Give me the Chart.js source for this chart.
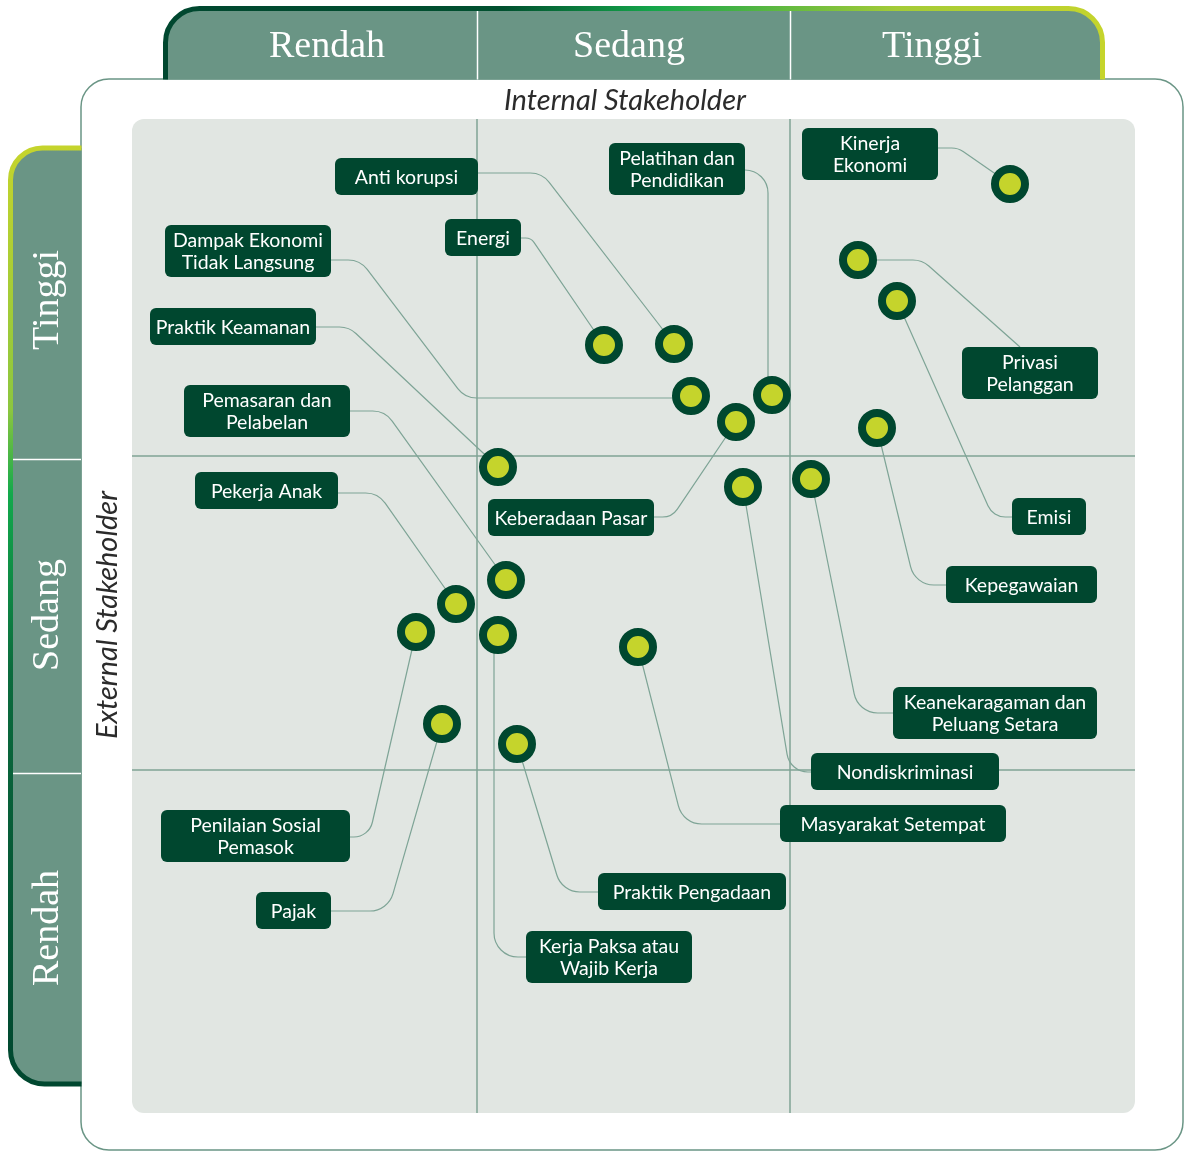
<!DOCTYPE html>
<html lang="id">
<head>
<meta charset="UTF-8">
<title>Matriks Materialitas</title>
<script src="https://cdn.jsdelivr.net/npm/chart.js"></script>
<style>
html,body{margin:0;padding:0;background:#fff;}
.wrap{position:relative;width:1184px;height:1151px;}
</style>
</head>
<body>
<div class="wrap"><canvas id="matrix"></canvas></div>
<script>
const topics = [
  "Kinerja\nEkonomi", "Privasi\nPelanggan", "Emisi", "Energi", "Anti korupsi",
  "Dampak Ekonomi\nTidak Langsung", "Pelatihan dan\nPendidikan", "Keberadaan Pasar",
  "Kepegawaian", "Praktik Keamanan", "Nondiskriminasi",
  "Keanekaragaman dan\nPeluang Setara", "Pemasaran dan\nPelabelan", "Pekerja Anak",
  "Penilaian Sosial\nPemasok", "Kerja Paksa atau\nWajib Kerja", "Masyarakat Setempat",
  "Pajak", "Praktik Pengadaan"
];
// x = Internal Stakeholder, y = External Stakeholder
const internalScore = [87.8, 72.6, 76.5, 47.2, 54.2, 55.9, 64.0, 60.4, 74.5, 36.6, 61.1, 67.9, 37.4, 32.4, 28.4, 36.6, 50.6, 31.0, 38.5];
const externalScore = [92.9, 85.3, 81.2, 76.8, 76.9, 71.7, 71.8, 69.1, 68.5, 64.6, 62.6, 63.4, 53.3, 50.9, 48.1, 47.8, 46.6, 38.9, 36.9];

const levels = ["Rendah", "Sedang", "Tinggi"];
const xBreaks = [34.5, 65.8];
const yBreaks = [34.3, 65.7];
const xAxisTitle = "Internal Stakeholder";
const yAxisTitle = "External Stakeholder";

/* ---------- layout of the annotations (in axis units) ---------- */
const levelCenterX = [19.5, 49.7, 80.0];
const levelCenterY = [18.5, 49.8, 81.3];
// label box: [left, top, right, bottom]
const labelBox = [
  [67.0, 98.5, 80.6, 93.3], [83.0, 76.6, 96.6, 71.4], [88.0, 61.5, 95.4, 57.8],
  [31.3, 89.4, 38.9, 85.7], [20.3, 95.5, 34.6, 91.8], [3.3, 88.8, 19.9, 83.6],
  [47.7, 97.0, 61.3, 91.8], [35.6, 61.4, 52.2, 57.7], [81.4, 54.7, 96.5, 51.0],
  [1.8, 80.5, 18.4, 76.8], [67.9, 36.0, 86.7, 32.3], [76.1, 42.6, 96.5, 37.4],
  [5.2, 72.8, 21.8, 67.6], [6.3, 64.1, 20.6, 60.4], [2.9, 30.3, 21.8, 25.1],
  [39.4, 18.2, 56.0, 13.0], [64.8, 30.8, 87.4, 27.1], [12.4, 22.1, 19.9, 18.4],
  [46.6, 24.0, 65.4, 20.3]
];
// leader line: from the box edge through the bends, ending at the point
const leader = [
  [[80.6, 96.5], [82.6, 96.5]],
  [[88.8, 76.6], [79.0, 85.3]],
  [[88.0, 59.6], [86.1, 59.6]],
  [[38.9, 87.5], [39.9, 87.5]],
  [[34.6, 94.0], [41.0, 94.0]],
  [[19.9, 85.3], [22.8, 85.3], [33.3, 71.5], [54.8, 71.5]],
  [[61.3, 94.3], [63.6, 94.3], [63.6, 72.8]],
  [[52.2, 59.6], [54.0, 59.6]],
  [[81.4, 52.8], [78.3, 52.8]],
  [[18.4, 78.6], [21.7, 78.6]],
  [[67.9, 34.1], [65.8, 34.1]],
  [[76.1, 40.0], [72.6, 40.0]],
  [[21.8, 70.2], [25.3, 70.2]],
  [[20.6, 62.0], [24.6, 62.0]],
  [[21.8, 27.6], [23.7, 27.6]],
  [[39.4, 15.6], [36.2, 15.6], [36.2, 46.8]],
  [[64.8, 28.9], [55.1, 28.9]],
  [[19.9, 20.2], [25.6, 20.2]],
  [[46.6, 22.1], [43.0, 22.1]]
];

/* ---------- colours ---------- */
const DARK = "#00472f";
const LIME = "#c5d42c";
const SAGE = "#6a9585";
const PLOT_BG = "#e1e6e2";
const LINE = "#7fa394";

function roundedPath(ctx, pts, R){
  ctx.beginPath();
  ctx.moveTo(pts[0][0], pts[0][1]);
  for(let i=1;i<pts.length-1;i++){
    const [ax,ay]=pts[i-1],[bx,by]=pts[i],[cx,cy]=pts[i+1];
    const l1=Math.hypot(bx-ax,by-ay), l2=Math.hypot(cx-bx,cy-by);
    const r=Math.min(R,l1,l2/2);
    ctx.arcTo(bx,by,cx,cy,r);
  }
  const last=pts[pts.length-1];
  ctx.lineTo(last[0],last[1]);
}

const matrixDecor = {
  id: "matrixDecor",
  beforeDraw(chart){
    const {ctx, chartArea:a, scales:{x,y}} = chart;
    ctx.save();

    // white panel
    ctx.beginPath();
    ctx.roundRect(81, 79, 1102, 1071, 28);
    ctx.fillStyle = "#fff"; ctx.fill();
    ctx.lineWidth = 1.5; ctx.strokeStyle = SAGE; ctx.stroke();

    // top tab
    ctx.beginPath();
    ctx.moveTo(165.5, 79.5);
    ctx.arcTo(165.5, 8.5, 400, 8.5, 34);
    ctx.arcTo(1102.5, 8.5, 1102.5, 60, 34);
    ctx.lineTo(1102.5, 79.5);
    ctx.closePath();
    ctx.fillStyle = SAGE; ctx.fill();
    ctx.beginPath();
    ctx.moveTo(165.5, 79.5);
    ctx.arcTo(165.5, 8.5, 400, 8.5, 34);
    ctx.arcTo(1102.5, 8.5, 1102.5, 60, 34);
    ctx.lineTo(1102.5, 79.5);
    const gTop = ctx.createLinearGradient(165, 0, 1103, 0);
    gTop.addColorStop(0, DARK); gTop.addColorStop(0.36, "#01502f");
    gTop.addColorStop(0.52, "#14a54a"); gTop.addColorStop(0.78, "#a4cb37");
    gTop.addColorStop(1, LIME);
    ctx.lineWidth = 5; ctx.strokeStyle = gTop; ctx.stroke();

    // left tab
    ctx.beginPath();
    ctx.moveTo(81.5, 148);
    ctx.arcTo(10.5, 148, 10.5, 400, 32);
    ctx.arcTo(10.5, 1084, 81.5, 1084, 34);
    ctx.lineTo(81.5, 1084);
    ctx.closePath();
    ctx.fillStyle = SAGE; ctx.fill();
    ctx.beginPath();
    ctx.moveTo(81.5, 148);
    ctx.arcTo(10.5, 148, 10.5, 400, 32);
    ctx.arcTo(10.5, 1084, 81.5, 1084, 34);
    ctx.lineTo(81.5, 1084);
    const gLeft = ctx.createLinearGradient(0, 148, 0, 1084);
    gLeft.addColorStop(0, LIME); gLeft.addColorStop(0.28, "#8cc63f");
    gLeft.addColorStop(0.37, "#12a94c"); gLeft.addColorStop(0.56, "#0b6b3d");
    gLeft.addColorStop(1, DARK);
    ctx.lineWidth = 5; ctx.strokeStyle = gLeft; ctx.stroke();

    // tab dividers
    ctx.strokeStyle = "#ffffff"; ctx.lineWidth = 1.5;
    xBreaks.forEach(v=>{
      const px = Math.round(x.getPixelForValue(v))+0.5;
      ctx.beginPath(); ctx.moveTo(px, 11); ctx.lineTo(px, 79.5); ctx.stroke();
    });
    yBreaks.forEach(v=>{
      const py = Math.round(y.getPixelForValue(v))+3.5;
      ctx.beginPath(); ctx.moveTo(13, py); ctx.lineTo(81, py); ctx.stroke();
    });

    // tab texts
    ctx.fillStyle = "#ffffff";
    ctx.font = '38px "Liberation Serif", serif';
    ctx.textAlign = "center"; ctx.textBaseline = "middle";
    levels.forEach((t,i)=>ctx.fillText(t, x.getPixelForValue(levelCenterX[i]), 47));
    levels.forEach((t,i)=>{
      ctx.save();
      ctx.translate(48, y.getPixelForValue(levelCenterY[i]));
      ctx.rotate(-Math.PI/2);
      ctx.fillText(t, 0, 0);
      ctx.restore();
    });

    // axis titles
    ctx.fillStyle = "#2b2b2b";
    ctx.font = 'italic 29px Lato, sans-serif';
    ctx.fillText(xAxisTitle, 625, 101);
    ctx.save();
    ctx.translate(108, 615);
    ctx.rotate(-Math.PI/2);
    ctx.fillText(yAxisTitle, 0, 0);
    ctx.restore();

    // plot background
    ctx.beginPath();
    ctx.roundRect(a.left, a.top, a.right-a.left, a.bottom-a.top, 12);
    ctx.fillStyle = PLOT_BG; ctx.fill();
    ctx.restore();
  },
  beforeDatasetsDraw(chart){
    const {ctx, chartArea:a, scales:{x,y}} = chart;
    ctx.save();

    // quadrant lines
    ctx.strokeStyle = LINE; ctx.lineWidth = 1.5;
    xBreaks.forEach(v=>{
      const px = Math.round(x.getPixelForValue(v));
      ctx.beginPath(); ctx.moveTo(px, a.top); ctx.lineTo(px, a.bottom); ctx.stroke();
    });
    yBreaks.forEach(v=>{
      const py = Math.round(y.getPixelForValue(v));
      ctx.beginPath(); ctx.moveTo(a.left, py); ctx.lineTo(a.right, py); ctx.stroke();
    });

    // leader lines
    ctx.lineWidth = 1.2; ctx.strokeStyle = "#7ea496";
    topics.forEach((t,i)=>{
      const pts = leader[i].map(p=>[x.getPixelForValue(p[0]), y.getPixelForValue(p[1])]);
      pts.push([x.getPixelForValue(internalScore[i]), y.getPixelForValue(externalScore[i])]);
      roundedPath(ctx, pts, 24);
      ctx.stroke();
    });

    // label boxes
    ctx.font = '19.5px Lato, sans-serif';
    ctx.textAlign = "center"; ctx.textBaseline = "middle";
    topics.forEach((t,i)=>{
      const [l,tp,r,b] = labelBox[i];
      const x1 = x.getPixelForValue(l), x2 = x.getPixelForValue(r);
      const y1 = y.getPixelForValue(tp), y2 = y.getPixelForValue(b);
      ctx.beginPath();
      ctx.roundRect(x1, y1, x2-x1, y2-y1, 6);
      ctx.fillStyle = DARK; ctx.fill();
      const lines = t.split("\n");
      const cx = (x1+x2)/2, cy = (y1+y2)/2 + 1;
      ctx.fillStyle = "#ffffff";
      lines.forEach((ln,k)=>ctx.fillText(ln, cx, cy + (k-(lines.length-1)/2)*22));
    });
    ctx.restore();
  }
};

new Chart(document.getElementById("matrix"), {
  type: "scatter",
  data: {
    datasets: [{
      label: "Topik material",
      data: topics.map((t,i)=>({x: internalScore[i], y: externalScore[i]})),
      pointRadius: 15,
      pointHoverRadius: 15,
      borderWidth: 8,
      backgroundColor: LIME,
      borderColor: DARK
    }]
  },
  options: {
    responsive: true,
    maintainAspectRatio: false,
    animation: false,
    layout: {padding: {left: 132, top: 119, right: 49, bottom: 38}},
    scales: {
      x: {type: "linear", min: 0, max: 100.3, display: false},
      y: {type: "linear", min: 0, max: 99.4, display: false}
    },
    plugins: {legend: {display: false}, tooltip: {enabled: false}}
  },
  plugins: [matrixDecor]
});
</script>
</body>
</html>
